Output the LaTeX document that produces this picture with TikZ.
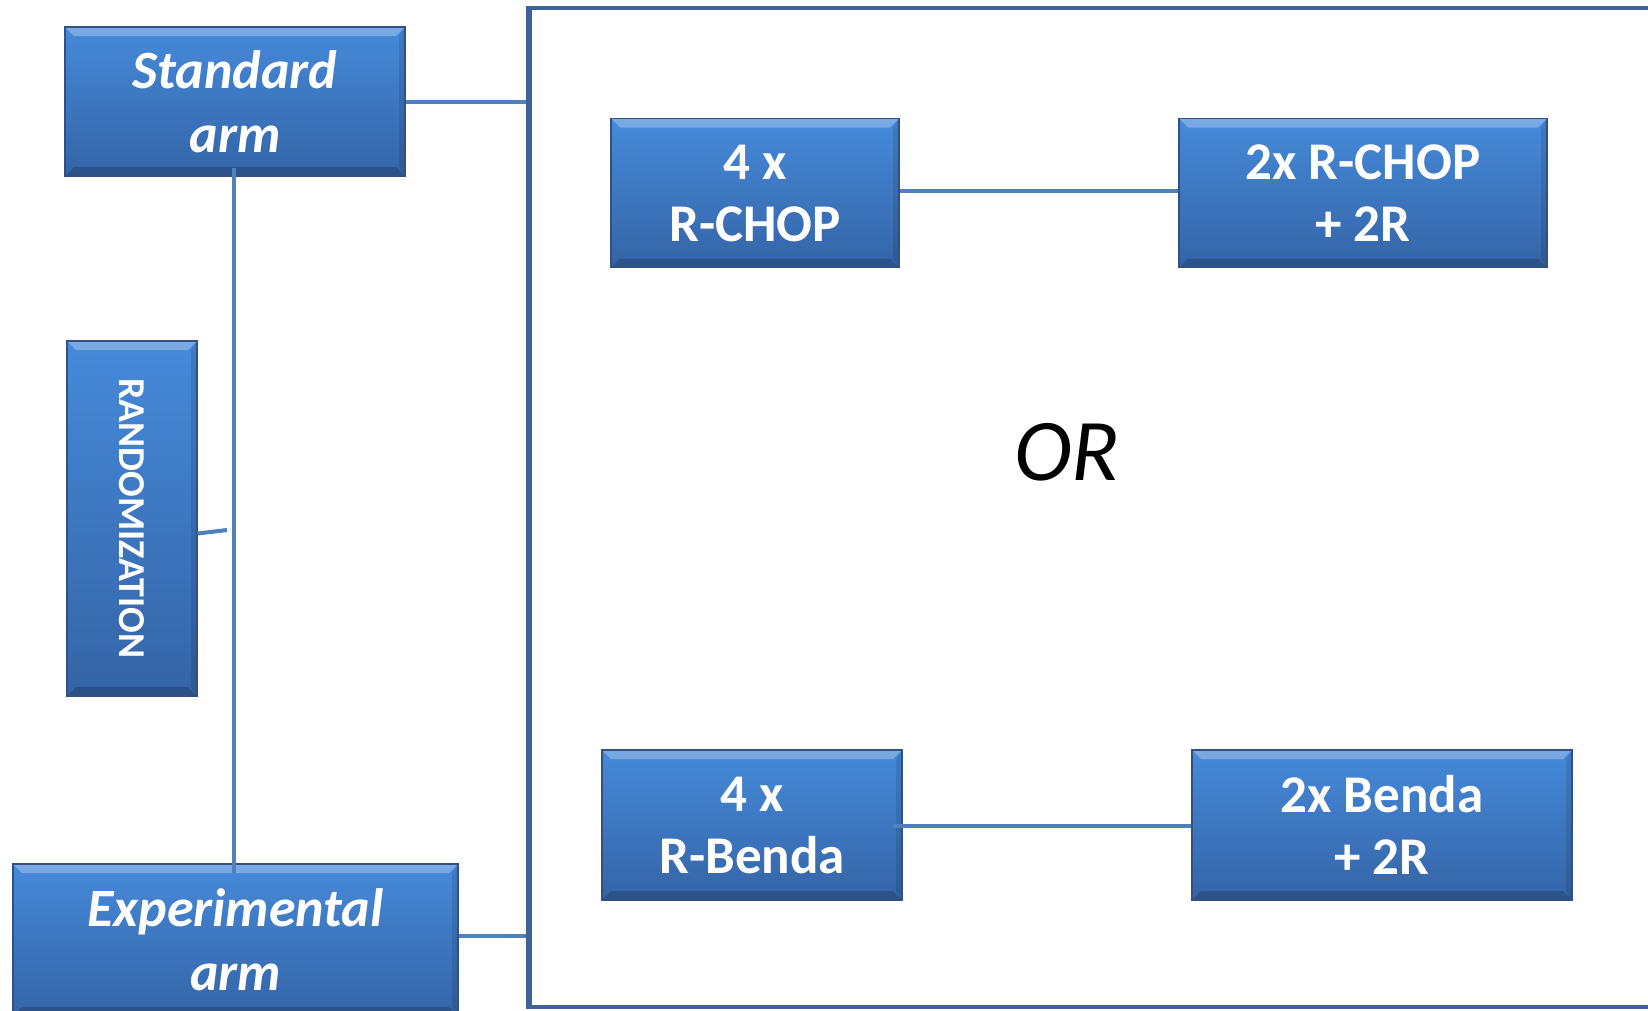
\documentclass[tikz,border=0pt]{standalone}
\usepackage{fontspec}
\setmainfont{Carlito}
\definecolor{boxtop}{RGB}{70,138,218}
\definecolor{boxbot}{RGB}{52,100,166}
\definecolor{boxedge}{RGB}{50,80,130}
\definecolor{linecol}{RGB}{79,129,189}
\definecolor{framecol}{RGB}{63,98,150}
\tikzset{
  bluebox/.style={rectangle, draw=boxedge, line width=1.2pt, top color=boxtop, bottom color=boxbot,
    text=white, font=\bfseries\fontsize{53}{62}\selectfont, align=center, inner sep=0pt,
    path picture={
      \fill[white,opacity=0.28] (path picture bounding box.north west) -- (path picture bounding box.north east)
        -- ([xshift=-9pt,yshift=-9pt]path picture bounding box.north east) -- ([xshift=9pt,yshift=-9pt]path picture bounding box.north west) -- cycle;
      \fill[black,opacity=0.18] (path picture bounding box.south west) -- (path picture bounding box.south east)
        -- ([xshift=-9pt,yshift=9pt]path picture bounding box.south east) -- ([xshift=9pt,yshift=9pt]path picture bounding box.south west) -- cycle;
      \fill[black,opacity=0.10] (path picture bounding box.south east) -- (path picture bounding box.north east)
        -- ([xshift=-6pt,yshift=-9pt]path picture bounding box.north east) -- ([xshift=-6pt,yshift=9pt]path picture bounding box.south east) -- cycle;
    }},
  armtext/.style={font=\bfseries\itshape\fontsize{54}{64}\selectfont},
  conn/.style={draw=linecol, line width=4pt},
}
\begin{document}
\begin{tikzpicture}[x=1pt,y=-1pt]
\useasboundingbox (0,0) rectangle (1648,1010);
% frame
\node[draw=framecol, line width=4pt, rectangle, minimum width=1140pt, minimum height=999pt, inner sep=0pt] (frame) at (1100,507.5) {};
% left column
\node[bluebox, armtext, minimum width=340pt, minimum height=149pt] (std) at (235,101.5) {Standard\\arm};
\node[bluebox, minimum width=130pt, minimum height=355pt] (rand) at (132,518.5) {};
\node[text=white, font=\bfseries\fontsize{38}{42}\selectfont, rotate=-90, inner sep=0pt] (randtxt) at (rand.center) {RANDOMIZATION};
\node[bluebox, armtext, minimum width=445pt, minimum height=152pt] (exp) at (235.5,940) {Experimental\\arm};
% right boxes
\node[bluebox, minimum width=288pt, minimum height=149pt] (rc4) at (755,193) {4 x\\R-CHOP};
\node[bluebox, minimum width=368pt, minimum height=149pt] (rc2) at (1363,193) {2x R-CHOP\\+ 2R};
\node[bluebox, minimum width=300pt, minimum height=150pt] (rb4) at (752,825) {4 x\\R-Benda};
\node[bluebox, minimum width=380pt, minimum height=150pt] (rb2) at (1382,825) {2x Benda\\+ 2R};
\node[font=\itshape\fontsize{88}{100}\selectfont, inner sep=0pt] (or) at (1067,452) {OR};
% connectors
\coordinate (vtop) at (234,168);
\coordinate (vbot) at (234,874);
\coordinate (rj) at (227,530);
\draw[conn] (vtop) -- (vbot);
\draw[conn] ([yshift=-15pt]rand.east) -- (rj);
\draw[conn] (std.east) -- (std.east -| frame.west);
\draw[conn] ([yshift=4pt]exp.east) -- ([yshift=4pt]exp.east -| frame.west);
\draw[conn] ([yshift=2pt]rc4.east) -- ([yshift=2pt]rc2.west);
\draw[conn] ([xshift=-10pt,yshift=-1pt]rb4.east) -- ([yshift=-1pt]rb2.west);
% redraw frame edge on top
\draw[framecol, line width=4pt] (frame.north west) -- (frame.south west);
\end{tikzpicture}
\end{document}
